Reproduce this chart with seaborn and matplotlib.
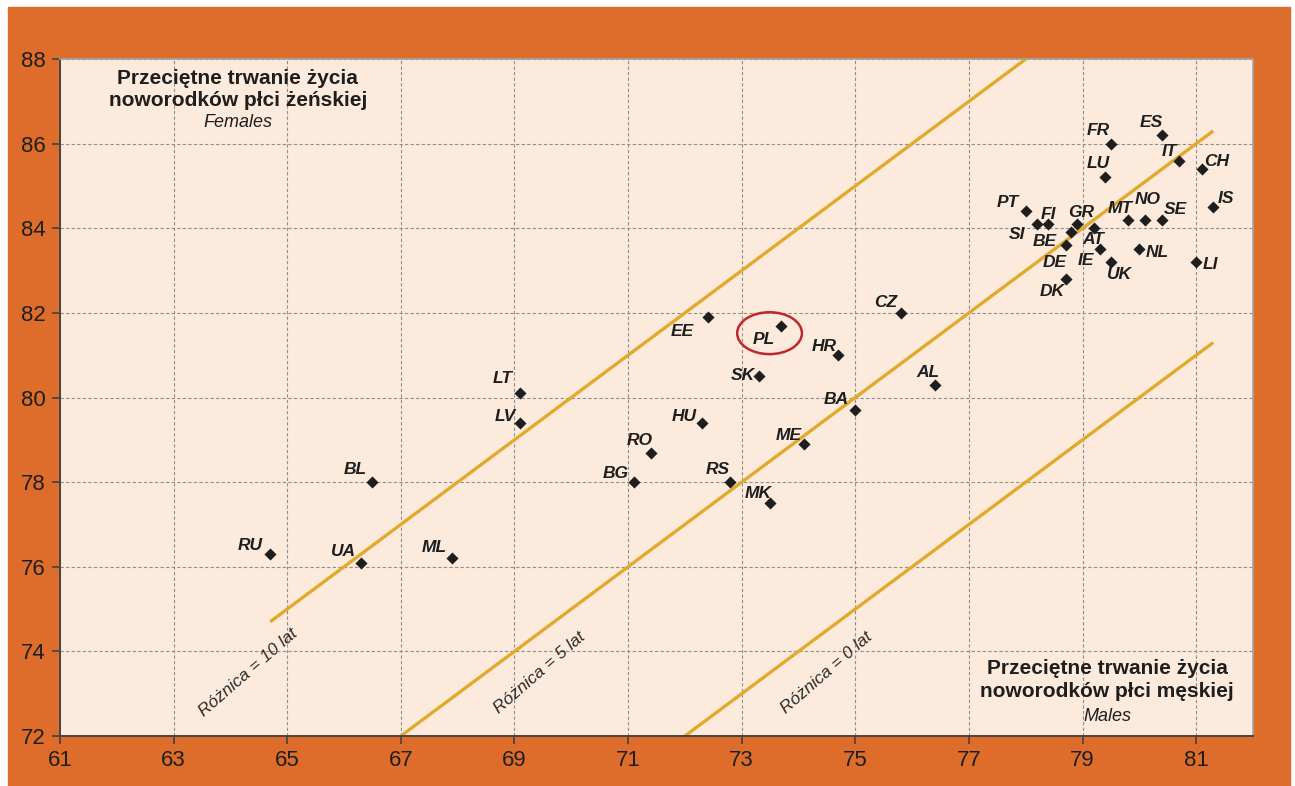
import numpy as np
import pandas as pd
import matplotlib
matplotlib.use('Agg')
import matplotlib.pyplot as plt
import seaborn as sns
from matplotlib.patches import Ellipse, Rectangle

# ── Dane: przeciętne trwanie życia noworodków ───────────────────────────────

kraje = ['RU', 'UA', 'BL', 'ML', 'LT', 'LV', 'BG', 'RO', 'HU', 'EE', 'RS', 'SK',
         'PL', 'MK', 'ME', 'HR', 'BA', 'CZ', 'AL',
         'FR', 'ES', 'IT', 'CH', 'LU', 'PT', 'IS', 'SI', 'FI', 'GR', 'MT', 'NO',
         'SE', 'AT', 'BE', 'DE', 'IE', 'NL', 'UK', 'LI', 'DK']
mezczyzni = [64.7, 66.3, 66.5, 67.9, 69.1, 69.1, 71.1, 71.4, 72.3, 72.4, 72.8, 73.3,
             73.7, 73.5, 74.1, 74.7, 75.0, 75.8, 76.4,
             79.5, 80.4, 80.7, 81.1, 79.4, 78.0, 81.3, 78.2, 78.4, 78.9, 79.8, 80.1,
             80.4, 79.2, 78.8, 78.7, 79.3, 80.0, 79.5, 81.0, 78.7]
kobiety = [76.3, 76.1, 78.0, 76.2, 80.1, 79.4, 78.0, 78.7, 79.4, 81.9, 78.0, 80.5,
           81.7, 77.5, 78.9, 81.0, 79.7, 82.0, 80.3,
           86.0, 86.2, 85.6, 85.4, 85.2, 84.4, 84.5, 84.1, 84.1, 84.1, 84.2, 84.2,
           84.2, 84.0, 83.9, 83.6, 83.5, 83.5, 83.2, 83.2, 82.8]

roznice = [10, 5, 0]
zakres_linii = [64.7, 81.3]

x_ticks = list(range(61, 83, 2))
y_ticks = list(range(72, 90, 2))

# przesunięcia etykiet (piksele: w prawo, w dół)
offsets = {
    'RU': (-20, -9), 'UA': (-18, -11), 'BL': (-17, -13), 'ML': (-18, -11),
    'LT': (-17, -15), 'LV': (-15, -6), 'BG': (-18, -9), 'RO': (-11, -12),
    'HU': (-18, -6), 'EE': (-25, 14), 'RS': (-13, -13), 'SK': (-16, -1),
    'PL': (-18, 14), 'MK': (-12, -10), 'ME': (-15, -9), 'HR': (-14, -9),
    'BA': (-19, -11), 'CZ': (-15, -10), 'AL': (-7, -12),
    'FR': (-13, -13), 'ES': (-11, -13), 'IT': (-10, -9), 'CH': (15, -8),
    'LU': (-7, -14), 'PT': (-18, -9), 'IS': (13, -9), 'SI': (-20, 10),
    'FI': (0, -10), 'GR': (4, -12), 'MT': (-8, -11), 'NO': (3, -20),
    'SE': (13, -10), 'AT': (-1, 11), 'BE': (-26, 9), 'DE': (-11, 17),
    'IE': (-14, 11), 'NL': (18, 3), 'UK': (9, 12), 'LI': (14, 2), 'DK': (-13, 12),
}

df = pd.DataFrame({'kraj': kraje, 'males': mezczyzni, 'females': kobiety})

# ── Styl ────────────────────────────────────────────────────────────────────

sns.set_theme(style='white')
plt.rcParams['font.family'] = ['Liberation Sans', 'DejaVu Sans']

ORANGE = '#DE6D2B'
BG = '#FCEBDC'
GOLD = '#E1AA2C'
INK = '#1e1e1e'

fig = plt.figure(figsize=(12.95, 7.86), dpi=100, facecolor='white')
fig.patches.append(Rectangle((8 / 1295, 0), 1282 / 1295, 1 - 7 / 786,
                             transform=fig.transFigure, color=ORANGE, zorder=-10))
ax = fig.add_axes([60 / 1295, 50 / 786, 1193 / 1295, 677 / 786])
ax.set_facecolor(BG)

# linie różnicy
xs = np.array(zakres_linii)
for d in roznice:
    ax.plot(xs, xs + d, color=GOLD, lw=2.4, zorder=2, solid_capstyle='butt')

sns.scatterplot(data=df, x='males', y='females', marker='D', s=38,
                color=INK, edgecolor=INK, linewidth=0, ax=ax, zorder=4)

for k, x, y in zip(kraje, mezczyzni, kobiety):
    dx, dy = offsets[k]
    ax.annotate(k, (x, y), xytext=(dx * 0.72, -dy * 0.72), textcoords='offset points',
                ha='center', va='center', fontsize=12.5, fontweight='bold',
                fontstyle='italic', color=INK, zorder=5)

# wyróżnienie Polski
ax.add_patch(Ellipse((73.49, 81.52), 1.14, 0.99, fill=False,
                     edgecolor='#C0272D', lw=1.8, zorder=5))

# opisy linii
for d, xc in zip(roznice, [64.31, 69.45, 74.49]):
    ax.text(xc, 73.5, f'Różnica = {d} lat', rotation=41, ha='center', va='center',
            fontsize=12.5, fontstyle='italic', color='#2a2a2a', zorder=3)

# opisy osi w narożnikach
tytul_k = ['Przeciętne trwanie życia', 'noworodków płci żeńskiej']
tytul_m = ['Przeciętne trwanie życia', 'noworodków płci męskiej']
for txt, yy in zip(tytul_k, [87.55, 87.01]):
    ax.text(64.13, yy, txt, ha='center', va='center', fontsize=15,
            fontweight='bold', color=INK)
ax.text(64.13, 86.49, 'Females', ha='center', va='center', fontsize=13,
        fontstyle='italic', color=INK)
for txt, yy in zip(tytul_m, [73.60, 73.04]):
    ax.text(79.43, yy, txt, ha='center', va='center', fontsize=15,
            fontweight='bold', color=INK)
ax.text(79.43, 72.47, 'Males', ha='center', va='center', fontsize=13,
        fontstyle='italic', color=INK)

ax.set_xlim(61, 82)
ax.set_ylim(72, 88)
ax.set_xticks(x_ticks)
ax.set_yticks(y_ticks)
ax.set_xlabel('')
ax.set_ylabel('')
ax.grid(True, color='#8f8f8f', linestyle=(0, (3, 2)), lw=0.8)
ax.set_axisbelow(True)
ax.tick_params(axis='both', direction='out', length=6, width=1.2, color='#444444',
               labelsize=16, labelcolor=INK, pad=4)
ax.tick_params(left=True, bottom=True)
for s in ['left', 'bottom']:
    ax.spines[s].set_color('#444444')
    ax.spines[s].set_linewidth(1.4)
for s in ['top', 'right']:
    ax.spines[s].set_color('#a5a5a5')
    ax.spines[s].set_linewidth(1.2)

fig.savefig('out.png', dpi=100, facecolor=fig.get_facecolor())
